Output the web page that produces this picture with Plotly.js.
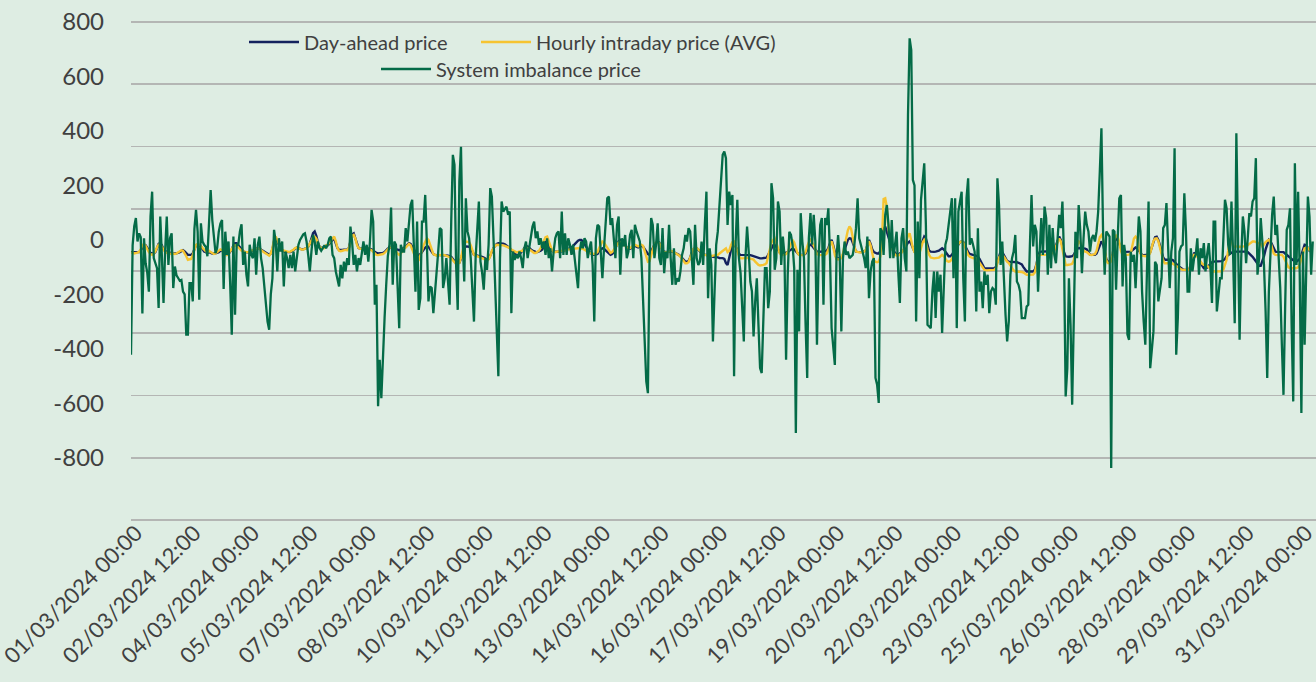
<!DOCTYPE html>
<html>
<head>
<meta charset="utf-8">
<script src="https://cdn.plot.ly/plotly-3.0.1.min.js"></script>
<style>
html,body{margin:0;padding:0;background:#deede3;}
#chart{width:1316px;height:682px;}
</style>
</head>
<body>
<div id="chart"></div>
<script>
// ---- data (hourly, starting 01/03/2024 00:00) ----
const startTime = '2024-03-01T00:00:00Z';
const seriesNames = ['Day-ahead price', 'Hourly intraday price (AVG)', 'System imbalance price'];

const dayAheadPrice = [
-45,-45,-46,-47,-47,-45,-38,-25,-18,-20,-30,-40,-48,-50,-50,-45,-30,-15,-12,-20,-35,-42,-45,-46,
-48,-49,-50,-50,-50,-48,-45,-40,-38,-42,-50,-55,-55,-55,-50,-38,-20,-18,-20,-25,-35,-43,-45,-48,
-45,-48,-50,-50,-50,-48,-45,-40,-40,-45,-50,-55,-52,-45,-35,-20,-12,-12,-20,-30,-38,-42,-45,-46,
-46,-45,-42,-40,-38,-35,-30,-32,-36,-40,-42,-45,-50,-55,-50,-35,-5,5,-5,-20,-30,-38,-42,-45,
-45,-46,-45,-42,-38,-32,-28,-30,-33,-35,-35,-33,-30,-25,-15,5,25,31,15,-10,-25,-30,-30,-28,
-22,-20,-15,-5,0,5,-10,-30,-37,-38,-37,-36,-35,-36,-30,-5,20,24,5,-20,-30,-32,-31,-30,
-30,-30,-31,-32,-35,-40,-45,-48,-50,-50,-49,-48,-45,-38,-32,-30,-28,-30,-32,-33,-35,-38,-36,-33,
-30,-25,-18,-12,-15,-25,-38,-48,-55,-55,-52,-45,-35,-28,-24,-25,-35,-45,-52,-55,-55,-55,-56,-55,
-55,-56,-57,-58,-60,-62,-70,-80,-86,-86,-84,-70,-45,-30,-24,-24,-25,-30,-45,-55,-56,-57,-58,-60,
-62,-65,-70,-72,-70,-60,-45,-30,-20,-15,-12,-12,-12,-14,-16,-20,-24,-30,-38,-45,-50,-55,-55,-55,
-45,-40,-30,-24,-24,-28,-35,-40,-43,-44,-45,-43,-40,-35,-20,-8,-6,-15,-30,-40,-43,-44,-43,-43,
-43,-42,-40,-38,-36,-34,-32,-28,-22,-15,-8,-3,0,0,-5,-15,-28,-38,-45,-50,-55,-55,-54,-52,
-40,-35,-31,-33,-38,-45,-50,-55,-52,-45,-30,-15,-5,0,-3,-10,-20,-28,-32,-33,-30,-25,-22,-25,
-28,-25,-22,-25,-35,-45,-52,-55,-45,-30,-18,-10,-6,-10,-25,-38,-43,-44,-45,-43,-42,-43,-46,-49,
-50,-55,-60,-68,-75,-80,-80,-78,-65,-45,-35,-31,-31,-35,-42,-48,-52,-55,-55,-56,-58,-60,-62,-63,
-62,-64,-67,-67,-67,-70,-85,-92,-70,-40,-15,-12,-25,-40,-52,-55,-55,-56,-56,-55,-55,-56,-58,-60,
-64,-66,-67,-68,-68,-67,-66,-65,-55,-45,-30,-20,-18,-25,-35,-45,-48,-49,-49,-48,-45,-40,-35,-32,
-35,-42,-50,-55,-55,-56,-55,-50,-35,-22,-18,-22,-30,-38,-43,-44,-44,-43,-43,-42,-40,-30,-12,0,
-20,-50,-67,-68,-67,-66,-55,-35,-15,0,6,5,-10,-30,-43,-44,-45,-45,-44,-43,-40,-20,0,-15,
-35,-45,-49,-50,-50,-40,-10,40,49,30,5,-15,-30,-40,-50,-55,-55,-50,-45,-40,-30,-20,-10,-6,
-15,-30,-43,-44,-43,-40,-20,0,12,5,-20,-40,-43,-44,-44,-43,-42,-40,-35,-31,-35,-45,-55,-60,
-60,-55,-45,-35,-25,-15,-8,-6,-8,-20,-35,-45,-52,-55,-55,-56,-58,-62,-70,-80,-95,-104,-105,-105,
-105,-104,-103,-104,-100,-80,-55,-43,-45,-55,-68,-78,-80,-80,-80,-80,-80,-82,-84,-86,-90,-100,-110,-116,
-116,-116,-116,-116,-110,-90,-60,-45,-43,-43,-42,-42,-43,-43,-42,-40,-35,-20,0,12,0,-25,-45,-61,
-62,-62,-61,-60,-55,-40,-31,-30,-30,-31,-31,-32,-35,-45,-55,-55,-55,-55,-50,-35,-15,-6,-15,-40,
-70,-80,-80,-75,-50,-10,6,0,-15,-35,-43,-44,-44,-45,-44,-43,-38,-31,-28,-31,-40,-50,-55,-56,
-56,-55,-54,-45,-25,-5,10,12,0,-20,-45,-65,-73,-74,-73,-73,-72,-75,-80,-88,-95,-100,-105,-108,
-110,-110,-111,-110,-90,-65,-49,-48,-55,-70,-85,-95,-104,-104,-102,-95,-88,-82,-80,-80,-80,-80,-80,-78,
-75,-70,-60,-55,-50,-45,-43,-43,-43,-43,-42,-42,-43,-43,-43,-45,-50,-55,-62,-70,-80,-90,-95,-95,
-80,-60,-35,-15,0,-5,-20,-35,-43,-44,-44,-43,-43,-45,-50,-55,-60,-65,-70,-75,-80,-80,-75,-70,
-55,-35,-18,-20,-30,-40,-43,-43
];

const intradayPrice = [
-48,-46,-50,-49,-47,-44,-35,-20,-15,-22,-35,-45,-52,-55,-50,-42,-28,-18,-15,-25,-38,-45,-48,-50,
-50,-52,-50,-52,-50,-46,-42,-38,-40,-48,-60,-73,-72,-70,-55,-35,-18,-15,-18,-22,-30,-38,-42,-45,
-40,-45,-50,-52,-50,-45,-40,-35,-38,-45,-52,-55,-50,-40,-30,-25,-20,-22,-28,-35,-40,-42,-44,-45,
-45,-42,-40,-38,-36,-34,-30,-32,-38,-42,-46,-50,-55,-58,-50,-30,0,12,0,-18,-30,-38,-40,-42,
-42,-44,-43,-40,-36,-30,-28,-30,-34,-36,-36,-34,-30,-25,-15,0,10,12,5,-12,-25,-30,-32,-30,
-20,-18,-10,0,8,12,-5,-30,-40,-42,-40,-38,-37,-38,-30,-10,15,18,5,-18,-30,-33,-32,-31,
-30,-31,-32,-34,-38,-44,-50,-55,-56,-55,-54,-52,-48,-40,-32,-28,-28,-32,-35,-40,-50,-55,-50,-40,
-32,-28,-20,-15,-20,-35,-55,-70,-80,-75,-60,-40,-20,-5,6,0,-20,-40,-52,-55,-58,-56,-55,-55,
-55,-56,-58,-60,-62,-66,-75,-84,-88,-88,-85,-65,-35,-15,-6,-6,-8,-20,-40,-55,-58,-60,-62,-66,
-66,-70,-73,-75,-72,-60,-40,-28,-22,-18,-18,-18,-18,-20,-22,-24,-26,-30,-36,-40,-43,-45,-44,-43,
-43,-40,-32,-28,-30,-35,-40,-45,-48,-48,-45,-40,-30,-15,0,10,12,-5,-25,-38,-43,-45,-43,-42,
-42,-42,-40,-38,-36,-35,-34,-33,-32,-31,-31,-31,-30,-31,-33,-36,-40,-45,-48,-50,-52,-52,-50,-45,
-30,-15,-6,-10,-20,-30,-40,-48,-45,-38,-28,-18,-10,-8,-10,-15,-22,-28,-30,-30,-26,-20,-18,-22,
-24,-20,-18,-22,-40,-65,-80,-78,-55,-30,-15,-10,-8,-12,-28,-40,-45,-46,-45,-42,-40,-42,-45,-48,
-50,-56,-62,-70,-80,-86,-86,-82,-65,-45,-34,-30,-30,-35,-42,-48,-52,-55,-56,-58,-60,-60,-58,-57,
-56,-55,-50,-45,-40,-35,-31,-45,-40,-20,-8,-6,-20,-40,-60,-67,-68,-67,-66,-66,-67,-68,-70,-72,
-80,-88,-92,-94,-94,-92,-90,-85,-60,-35,-10,0,6,-10,-30,-48,-55,-56,-55,-52,-45,-30,-12,0,
-10,-30,-48,-55,-56,-56,-55,-45,-25,-8,0,-8,-20,-35,-52,-55,-56,-56,-55,-55,-50,-35,-15,-5,
-25,-55,-70,-72,-70,-66,-50,-20,10,35,49,40,10,-25,-43,-45,-46,-46,-45,-43,-38,-20,-5,-20,
-55,-75,-80,-82,-80,-60,0,150,153,120,40,-10,-30,-45,-55,-58,-58,-55,-48,-40,-25,-5,15,24,
-5,-30,-45,-50,-52,-50,-30,-10,0,-10,-35,-55,-65,-67,-68,-67,-66,-65,-60,-55,-60,-70,-78,-80,
-78,-70,-55,-40,-28,-15,-8,-6,-10,-25,-40,-55,-62,-66,-67,-68,-70,-75,-85,-95,-105,-110,-112,-112,
-112,-110,-110,-110,-105,-85,-65,-55,-55,-62,-72,-80,-85,-95,-105,-112,-116,-116,-117,-118,-118,-120,-125,-128,
-128,-128,-128,-127,-120,-95,-65,-55,-55,-54,-54,-55,-55,-54,-52,-48,-40,-25,-5,5,-5,-35,-65,-92,
-92,-92,-90,-88,-75,-45,-20,-6,-10,-25,-40,-43,-45,-50,-55,-56,-55,-52,-40,-15,10,18,5,-30,
-75,-85,-85,-78,-50,0,18,10,-10,-40,-55,-56,-55,-55,-54,-50,-20,5,12,5,-25,-50,-58,-60,
-60,-58,-57,-48,-25,-5,5,6,-5,-30,-55,-75,-86,-87,-86,-86,-85,-88,-92,-98,-102,-106,-108,-110,
-110,-112,-112,-110,-88,-65,-55,-56,-62,-72,-82,-88,-92,-94,-95,-100,-108,-114,-116,-116,-117,-117,-116,-115,
-110,-95,-73,-40,6,0,-24,-25,-24,-24,-25,-24,-25,-24,-24,-20,-15,-10,-6,-6,-8,-10,-12,-15,
-25,-15,-8,-3,0,-10,-30,-50,-55,-56,-56,-55,-55,-62,-75,-90,-100,-104,-105,-104,-104,-104,-100,-90,
-70,-45,-31,-28,-30,-38,-42,-40
];

const imbalancePrice = [
-422,-20,50,80,-6,24,10,-270,6,-86,-120,-190,86,177,-67,-90,-104,-250,86,-60,-232,-40,86,-92,
6,24,-177,-98,-130,-140,-150,-147,-190,-200,-348,-348,-159,-159,-226,40,110,30,-220,61,-6,-18,-25,-60,
60,183,73,12,-49,-30,30,60,73,-180,30,-55,-6,-159,-348,12,-275,-18,-18,31,57,-92,-43,-128,
-171,-18,-55,-67,6,-128,-18,12,-67,-104,-165,-226,-300,-330,-200,-141,37,-6,-116,6,-43,-6,-171,-43,
-67,-104,-55,-104,-43,-116,-55,-18,0,12,20,24,-6,-55,-116,-43,18,-6,-55,-6,-30,-40,-31,-20,
-31,-18,6,12,-55,-67,-116,-141,-171,-92,-141,-80,-116,-67,-92,49,-6,-92,-55,-116,-67,-92,-43,-6,
-55,-18,-80,-6,110,67,-238,-165,-611,-440,-581,-416,-287,-165,-60,-18,119,-165,-6,-18,-153,-324,-18,-43,
-43,43,-6,80,128,147,-6,-190,67,-257,-214,67,67,165,-6,-226,-171,-177,-269,-200,-141,-43,43,37,
-177,-141,-67,-153,-238,67,312,275,-92,-257,214,342,6,-153,153,31,6,-67,-165,-300,-67,50,141,-80,
-120,-183,-67,-110,-18,190,159,6,-165,-312,-501,-67,141,104,116,122,92,104,-269,-43,-74,-55,-67,-43,
-67,-104,-31,-6,-67,-31,6,49,67,6,31,-18,6,-31,-6,-55,6,-67,-31,-116,-43,6,24,31,
-67,104,-55,24,-55,6,-18,-55,-18,-67,-120,-177,-43,-6,-31,6,-6,-67,-31,-6,-92,-300,6,55,
49,-67,-141,-31,67,153,159,55,80,-6,-67,55,86,-128,6,-24,18,-67,-43,18,37,-67,55,31,
10,-6,-67,-202,-336,-520,-563,-67,80,55,-67,-18,61,-67,-92,43,-122,-43,-67,55,-67,-165,-31,-165,
-141,-153,-116,-55,-31,18,-6,43,31,-67,-165,55,-67,-92,-80,-6,-92,55,177,-214,-31,-92,-373,-190,
-18,31,120,202,312,324,300,55,177,128,165,-501,-6,147,-67,-122,-263,-373,-67,49,-43,-153,-190,-355,
-226,-141,-312,-471,-489,-312,-104,-104,-251,-190,208,153,-110,-67,141,104,-92,12,-55,-440,-128,30,18,-18,
-104,-709,-110,-336,98,-6,-67,-312,-507,6,98,-18,92,-6,-385,-67,55,80,-238,80,55,116,-55,-324,
-400,-459,-67,18,-67,-336,-67,-6,-55,-43,-67,-60,-55,-18,43,153,6,-18,-43,-67,-104,12,-214,-116,
-80,-67,-507,-532,-599,43,31,-55,92,128,55,-67,73,-67,-18,30,-116,-232,6,43,-67,-116,459,740,
697,220,200,-300,67,-141,147,214,281,55,-312,-318,-324,-190,-116,-287,-116,-190,-128,-342,-190,-18,6,55,
104,153,-141,153,-324,104,141,177,-141,-300,153,226,-18,6,-18,-43,-263,43,-190,-153,-251,-116,-165,-128,
-269,-190,-177,-183,-238,226,128,-92,-6,-177,-275,-373,-300,-128,-67,-43,18,-153,-165,-190,-287,-287,-287,-245,
-238,-18,165,-24,55,31,-190,-43,80,-55,122,80,-128,55,-104,43,-55,-86,6,92,43,141,-67,-575,
-471,-141,-312,-605,-287,30,-67,128,31,-122,6,104,55,31,-43,6,18,-6,31,104,251,410,31,-128,
31,20,12,-838,37,31,-183,6,153,165,-171,-18,-67,-348,-367,-43,-80,-55,-177,-43,86,31,-190,-300,
-385,-116,141,-471,-385,-336,-80,-92,-226,-190,-141,43,55,135,-43,-177,-43,6,336,-422,-287,-43,-24,-18,
171,31,-190,-190,-31,-116,-67,-55,6,-128,-31,-67,-12,-116,-55,-12,-92,-232,67,67,-263,-190,-141,-141,
31,147,116,-18,-55,141,-55,-306,391,55,-367,-67,86,31,-86,6,98,86,141,153,300,-128,-67,80,
-6,-92,-263,-507,-190,-18,92,159,18,55,-67,-177,-385,-569,-251,37,55,116,-312,-593,281,-92,177,-128,
-636,-43,-385,-67,159,86,-128,-6
];

// axis labels and gridlines as they appear in the picture
const yTickValues = [800, 600, 400, 200, 0, -200, -400, -600, -800];
const yTickLabels = ['800', '600', '400', '200', '0', '-200', '-400', '-600', '-800'];
const gridValues = [800, 571.43, 342.86, 114.29, -114.29, -342.86, -571.43, -800, -1028.57];
const xTickStepHours = 36;
const visibleHours = 729;

// ---- build ----
const HOUR = 3600000;
const t0 = new Date(startTime).getTime();
const fmt = ms => new Date(ms).toISOString().slice(0, 19).replace('T', ' ');
const times = imbalancePrice.map((_, i) => fmt(t0 + i * HOUR));

const FONT = 'Lato, "Open Sans", sans-serif';
const TXT = '#404040';
const BG = '#deede3';
const yRange = [-1035.9, 807.3];

const traces = [
  {x: times, y: dayAheadPrice, name: seriesNames[0], type: 'scatter', mode: 'lines',
   line: {color: '#14225e', width: 2.4}, yaxis: 'y', legend: 'legend', hoverinfo: 'x+y+name'},
  {x: times, y: intradayPrice, name: seriesNames[1], type: 'scatter', mode: 'lines',
   line: {color: '#f6c431', width: 2.4}, yaxis: 'y', legend: 'legend2', hoverinfo: 'x+y+name'},
  {x: times, y: imbalancePrice, name: seriesNames[2], type: 'scatter', mode: 'lines',
   line: {color: '#046b47', width: 2.3}, yaxis: 'y2', legend: 'legend3', hoverinfo: 'x+y+name'}
];

// plot area: x 131..1316, y 20..522 (px)
const px = v => (v - 131) / 1185;
const py = v => (522 - v) / 502;
const legendBase = {
  orientation: 'h', xref: 'paper', yref: 'paper', xanchor: 'left', yanchor: 'middle',
  font: {family: FONT, size: 20, color: TXT}, bgcolor: 'rgba(0,0,0,0)', itemwidth: 50
};

const layout = {
  width: 1316, height: 682,
  margin: {l: 131, r: 0, t: 20, b: 160, pad: 0},
  paper_bgcolor: BG, plot_bgcolor: BG,
  font: {family: FONT, color: TXT},
  showlegend: true,
  xaxis: {
    type: 'date', range: [fmt(t0), fmt(t0 + visibleHours * HOUR)],
    tick0: fmt(t0), dtick: xTickStepHours * HOUR, tickformat: '%d/%m/%Y %H:%M',
    tickangle: -45, tickfont: {family: FONT, size: 22, color: TXT},
    ticklabeloverflow: 'allow', ticklabelstandoff: -7, ticklabelshift: 5,
    showgrid: false, zeroline: false, showline: false, ticks: '', automargin: false
  },
  yaxis: {
    range: yRange, tickmode: 'array', tickvals: gridValues, showticklabels: false,
    showgrid: true, gridcolor: '#b4b6b4', gridwidth: 1.6, zeroline: false, showline: false,
    ticks: '', automargin: false
  },
  yaxis2: {
    overlaying: 'y', side: 'left', range: yRange, tickmode: 'array',
    tickvals: yTickValues, ticktext: yTickLabels, showgrid: false, zeroline: false,
    showline: false, ticks: '', tickfont: {family: FONT, size: 24, color: TXT},
    ticklabelstandoff: 26, ticklabeloverflow: 'allow', automargin: false
  },
  legend: Object.assign({}, legendBase, {x: px(244), y: py(42)}),
  legend2: Object.assign({}, legendBase, {x: px(476), y: py(42)}),
  legend3: Object.assign({}, legendBase, {x: px(376), y: py(69)})
};

Plotly.newPlot('chart', traces, layout, {staticPlot: true, displayModeBar: false});
</script>
</body>
</html>
